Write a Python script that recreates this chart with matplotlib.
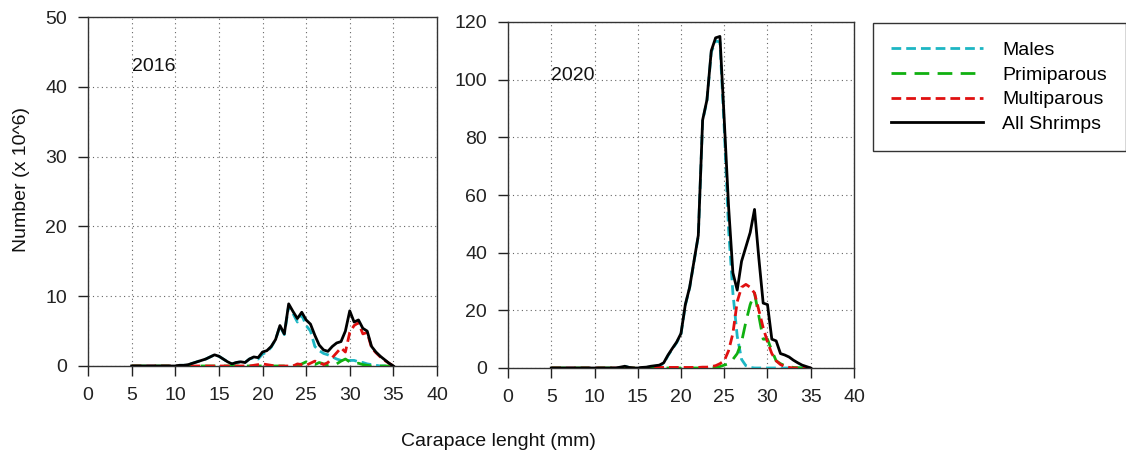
import numpy as np
import matplotlib
matplotlib.use("Agg")
import matplotlib.pyplot as plt

plt.rcParams["font.family"] = ["Liberation Sans", "DejaVu Sans"]

# carapace length classes (mm), 0.5 mm steps
length = np.arange(5, 35.01, 0.5)

# 2016, numbers x 10^6
all_2016 = [0, 0, 0, 0, 0, 0, 0, 0, 0, 0, 0,
            0.1, 0.1, 0.2, 0.4, 0.6, 0.8, 1.0, 1.3, 1.6, 1.4,
            1.0, 0.6, 0.3, 0.5, 0.6, 0.5, 1.0, 1.3, 1.2, 2.0,
            2.2, 2.8, 3.8, 5.8, 4.6, 8.9, 7.8, 6.8, 7.7, 6.6,
            6.0, 4.4, 3.0, 2.3, 2.1, 2.8, 3.3, 3.5, 5.0, 7.9,
            6.3, 6.6, 5.4, 5.0, 2.8, 2.0, 1.4, 0.9, 0.4, 0]
males_2016 = [0, 0, 0, 0, 0, 0, 0, 0, 0, 0, 0,
              0.1, 0.1, 0.2, 0.4, 0.6, 0.8, 1.0, 1.3, 1.6, 1.4,
              1.0, 0.6, 0.3, 0.5, 0.6, 0.5, 1.0, 1.2, 1.0, 1.7,
              2.0, 2.7, 3.8, 5.7, 4.5, 8.6, 7.5, 6.3, 7.3, 5.8,
              5.0, 2.8, 2.2, 1.8, 1.6, 1.3, 1.0, 0.8, 0.7, 0.8,
              0.8, 0.6, 0.5, 0.3, 0.2, 0.1, 0, 0, 0, 0]
prim_2016 = [0, 0, 0, 0, 0, 0, 0, 0, 0, 0, 0,
             0, 0, 0, 0, 0, 0, 0, 0, 0, 0,
             0, 0, 0, 0, 0, 0, 0, 0, 0, 0,
             0, 0, 0, 0, 0, 0, 0, 0.1, 0.3, 0.6,
             0.3, 0.2, 0.5, 0.3, 0.1, 0.2, 0.3, 0.7, 1.0, 0.6,
             0.3, 0.4, 0.2, 0.1, 0, 0, 0, 0, 0, 0]
multi_2016 = [0, 0, 0, 0, 0, 0, 0, 0, 0, 0, 0,
              0, 0, 0, 0, 0, 0, 0, 0, 0, 0,
              0, 0, 0, 0, 0, 0, 0, 0.1, 0.2, 0.3,
              0.2, 0.1, 0, 0, 0, 0, 0, 0.3, 0.2, 0.1,
              0.4, 0.7, 0.5, 0.2, 0.5, 1.2, 1.9, 2.6, 2.0, 4.8,
              5.8, 6.2, 4.6, 4.8, 2.6, 1.9, 1.3, 0.8, 0.4, 0]

# 2020, numbers x 10^6
all_2020 = [0, 0, 0, 0, 0, 0, 0, 0, 0, 0, 0,
            0, 0, 0, 0, 0, 0.3, 0.6, 0.2, 0, 0,
            0.2, 0.3, 0.6, 0.8, 1.0, 1.8, 4.5, 6.8, 9, 12,
            22, 28, 37, 46, 86, 93, 110, 114.5, 115, 86,
            56, 33, 27, 37, 42, 47, 55, 38, 22.5, 22,
            10, 9.4, 5, 4.5, 3.8, 2.7, 1.8, 1.0, 0.5, 0]
males_2020 = [0, 0, 0, 0, 0, 0, 0, 0, 0, 0, 0,
              0, 0, 0, 0, 0, 0.3, 0.6, 0.2, 0, 0,
              0.1, 0.2, 0.4, 0.6, 0.8, 1.6, 4.3, 6.6, 8.8, 11.8,
              21.8, 27.8, 36.8, 45.8, 85.7, 92.7, 109.5, 113.5, 113, 83,
              48, 26, 11, 3, 0.8, 0.2, 0, 0, 0, 0,
              0, 0, 0, 0, 0, 0, 0, 0, 0, 0]
prim_2020 = [0, 0, 0, 0, 0, 0, 0, 0, 0, 0, 0,
             0, 0, 0, 0, 0, 0, 0, 0, 0, 0,
             0, 0, 0, 0, 0, 0, 0, 0, 0, 0,
             0, 0, 0, 0, 0, 0, 0, 0.2, 0.5, 1.0,
             1.5, 3.0, 5.0, 9.0, 16, 22, 26, 18, 10, 10,
             6, 2.5, 1.5, 0.8, 0.4, 0.2, 0.1, 0, 0, 0]
multi_2020 = [0, 0, 0, 0, 0, 0, 0, 0, 0, 0, 0,
              0, 0, 0, 0, 0, 0, 0, 0, 0, 0,
              0, 0.2, 0.2, 0.3, 0.2, 0.2, 0.2, 0.2, 0.2, 0.2,
              0.2, 0.2, 0.2, 0.2, 0.3, 0.3, 0.5, 0.8, 1.5, 2.5,
              6, 12, 23, 28, 29, 28, 26, 20, 14, 9,
              5, 2.5, 1.2, 0.5, 0.2, 0, 0, 0, 0, 0]

series_2016 = [males_2016, prim_2016, multi_2016, all_2016]
series_2020 = [males_2020, prim_2020, multi_2020, all_2020]
labels = ["Males", "Primiparous", "Multiparous", "All Shrimps"]
colors = ["#1db6c3", "#10b010", "#e01010", "black"]
dashes = [(3.5, 1.8), (5.3, 3.0), (3.5, 1.8), None]

FS = 14


def draw(ax, series, year, ymax, ystep, ytext):
    for vals, lab, col, ds in zip(series, labels, colors, dashes):
        if ds is None:
            ax.plot(length, vals, color=col, lw=2.0, label=lab, zorder=4)
        else:
            ax.plot(length, vals, color=col, lw=2.0, dashes=ds, label=lab, zorder=3)
    ax.set_xlim(0, 40)
    ax.set_ylim(0, ymax)
    ax.set_xticks(np.arange(0, 41, 5))
    ax.set_yticks(np.arange(0, ymax + 1, ystep))
    ax.grid(True, linestyle=(0, (1, 3)), color="#666666", lw=0.8)
    ax.tick_params(direction="out", length=7, width=1, pad=8, labelsize=FS, colors="#222222")
    for sp in ax.spines.values():
        sp.set_color("#333333")
        sp.set_linewidth(1.0)
    ax.text(5, ytext, year, fontsize=FS, color="#111111")


fig = plt.figure(figsize=(11.26, 4.59), dpi=100)
ax1 = fig.add_axes([88 / 1126, 93 / 459, 349 / 1126, 349 / 459])
ax2 = fig.add_axes([508 / 1126, 91 / 459, 346 / 1126, 346 / 459])

draw(ax1, series_2016, "2016", 50, 10, 42.3)
draw(ax2, series_2020, "2020", 120, 20, 100)

fig.text(22 / 1126, 1 - 180 / 459, "Number (x 10^6)", rotation=90, fontsize=FS,
         ha="center", va="center", color="#111111")
fig.text(498 / 1126, 1 - 441 / 459, "Carapace lenght (mm)", fontsize=FS,
         ha="center", va="center", color="#111111")

h, l = ax2.get_legend_handles_labels()
leg = fig.legend(h, l, loc="upper left", bbox_to_anchor=(873 / 1126, 1 - 23 / 459),
                 fontsize=FS, handlelength=4.7, handletextpad=1.0, labelspacing=0.36,
                 borderpad=0.95, borderaxespad=0, fancybox=False, framealpha=1)
leg.get_frame().set_edgecolor("#333333")
leg.get_frame().set_linewidth(1.0)

fig.savefig("out.png", dpi=100)
